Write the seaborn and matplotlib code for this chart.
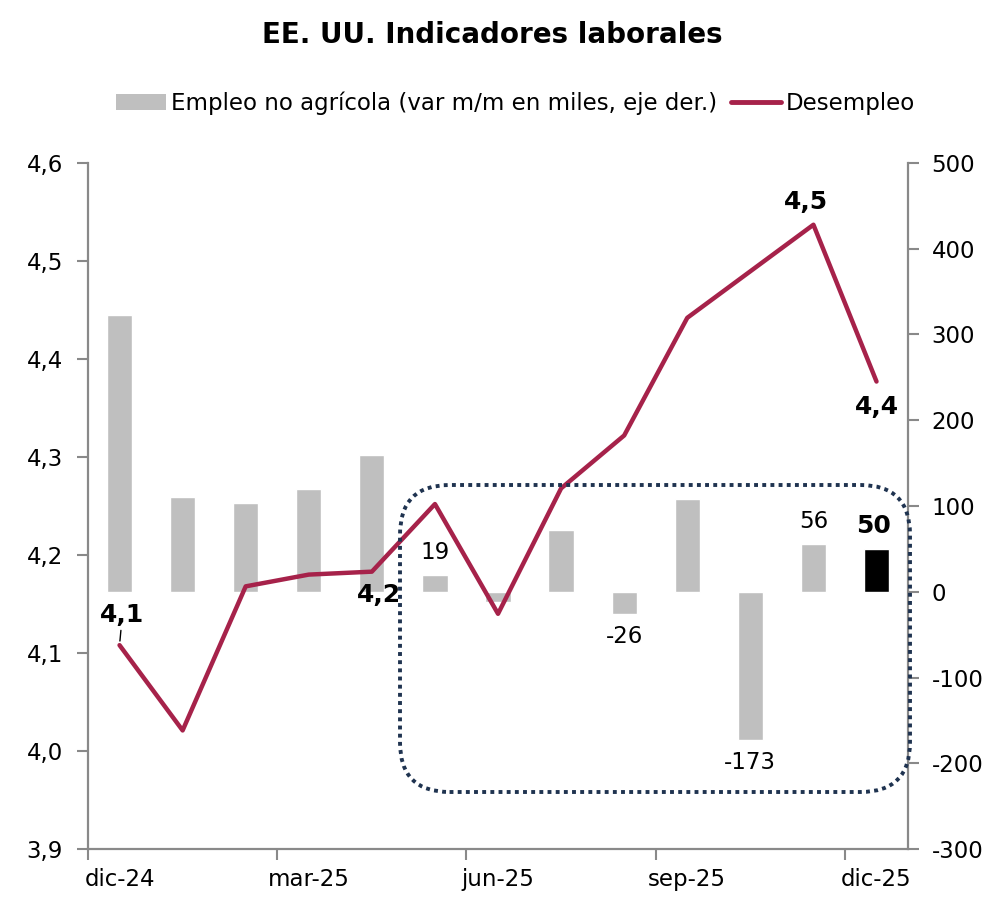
import numpy as np
import pandas as pd
import matplotlib
matplotlib.use('Agg')
import matplotlib.pyplot as plt
import seaborn as sns
from matplotlib.patches import FancyBboxPatch, Patch
from matplotlib.lines import Line2D
from matplotlib.ticker import FuncFormatter, FixedLocator

# ===============================
# Data
# ===============================
months = ['dic-24', 'ene-25', 'feb-25', 'mar-25', 'abr-25', 'may-25', 'jun-25',
          'jul-25', 'ago-25', 'sep-25', 'oct-25', 'nov-25', 'dic-25']
payrolls = [323, 111, 103, 120, 159, 19, -12, 72, -26, 108, -173, 56, 50]
unemployment = [4.108, 4.021, 4.168, 4.180, 4.183, 4.252, 4.140, 4.268,
                4.322, 4.442, np.nan, 4.537, 4.377]
tick_months = ['dic-24', 'mar-25', 'jun-25', 'sep-25', 'dic-25']

bar_labels = {5: '19', 8: '-26', 10: '-173', 11: '56'}
line_labels = {0: '4,1', 4: '4,2', 11: '4,5', 12: '4,4'}

df = pd.DataFrame({'mes': months, 'nfp': payrolls, 'u': unemployment})
df['pos'] = np.arange(len(df))

# ===============================
# Style
# ===============================
sns.set_style('white')
plt.rcParams['font.family'] = ['DejaVu Sans']
plt.rcParams['axes.unicode_minus'] = False
plt.rcParams['text.color'] = 'black'
plt.rcParams['xtick.color'] = 'black'
plt.rcParams['ytick.color'] = 'black'

GREY = '#BFBFBF'
RED = '#A6224A'
SPINE = '#898989'
NAVY = '#1F3350'
FS = 16.5

fig = plt.figure(figsize=(9.91, 9.09), dpi=100)
ax = fig.add_axes([0.0888, 0.066, 0.8275, 0.7547])
ax2 = ax.twinx()
ax.set_zorder(ax2.get_zorder() + 1)
ax.patch.set_visible(False)

# bars (right axis)
bar_colors = [GREY] * (len(months) - 1) + ['#000000']
sns.barplot(data=df, x='mes', y='nfp', hue='mes', palette=bar_colors,
            width=0.4, legend=False, ax=ax2, saturation=1)
ax2.set_ylim(-300, 500)
ax2.yaxis.set_major_locator(FixedLocator(range(-300, 501, 100)))

# line (left axis); oct-25 has no reading, so the line joins sep and nov
line_df = df.dropna(subset=['u'])
sns.lineplot(data=line_df, x='pos', y='u', color=RED, linewidth=3.2, ax=ax,
             sort=False)
ax.set_ylim(3.9, 4.6)
ax.yaxis.set_major_locator(FixedLocator(np.round(np.arange(3.9, 4.61, 0.1), 1)))
ax.yaxis.set_major_formatter(FuncFormatter(lambda v, p: f'{v:.1f}'.replace('.', ',')))

ax.set_xlim(-0.5, len(months) - 0.5)
ax2.set_xlim(-0.5, len(months) - 0.5)
for a in (ax, ax2):
    a.set_xlabel('')
    a.set_ylabel('')

# x ticks: marks at quarter boundaries, labels at month centres
tick_pos = [months.index(m) for m in tick_months]
ax.set_xticks([p - 0.5 for p in tick_pos])
ax.set_xticklabels([])
ax.set_xticks(tick_pos, minor=True)
ax.set_xticklabels(tick_months, minor=True)
ax.tick_params(axis='x', which='major', length=8, width=1.5, color=SPINE,
               direction='out', bottom=True)
ax.tick_params(axis='x', which='minor', length=0, pad=14, labelsize=FS)
ax2.tick_params(axis='x', which='both', bottom=False, labelbottom=False)

ax.tick_params(axis='y', length=8, width=1.5, color=SPINE, direction='out',
               left=True, pad=10, labelsize=FS)
ax2.tick_params(axis='y', length=8, width=1.5, color=SPINE, direction='out',
                right=True, pad=9, labelsize=FS)

for a in (ax, ax2):
    for s in a.spines.values():
        s.set_visible(False)
ax.spines['left'].set_visible(True)
ax.spines['bottom'].set_visible(True)
ax2.spines['right'].set_visible(True)
for s in (ax.spines['left'], ax.spines['bottom'], ax2.spines['right']):
    s.set_color(SPINE)
    s.set_linewidth(1.6)
ax.grid(False)
ax2.grid(False)

# bar value labels
for i, txt in bar_labels.items():
    v = payrolls[i]
    if v >= 0:
        ax2.annotate(txt, (i, v), xytext=(0, 8), textcoords='offset points',
                     ha='center', va='bottom', fontsize=FS)
    else:
        ax2.annotate(txt, (i, v), xytext=(0, -8), textcoords='offset points',
                     ha='center', va='top', fontsize=FS)
ax2.annotate('50', (12, payrolls[12]), xytext=(-2, 8), textcoords='offset points',
             ha='center', va='bottom', fontsize=18, fontweight='bold')

# line value labels
ax.annotate(line_labels[0], (0, unemployment[0]), xytext=(2, 13),
            textcoords='offset points', ha='center', va='bottom',
            fontsize=18, fontweight='bold',
            arrowprops=dict(arrowstyle='-', color='black', lw=1,
                            shrinkA=0, shrinkB=3))
ax.annotate(line_labels[4], (4, unemployment[4]), xytext=(5, -8),
            textcoords='offset points', ha='center', va='top',
            fontsize=18, fontweight='bold')
ax.annotate(line_labels[11], (11, unemployment[11]), xytext=(-5, 8),
            textcoords='offset points', ha='center', va='bottom',
            fontsize=18, fontweight='bold')
ax.annotate(line_labels[12], (12, unemployment[12]), xytext=(0, -10),
            textcoords='offset points', ha='center', va='top',
            fontsize=18, fontweight='bold')

# dotted highlight box
W, H = 991, 909
box = FancyBboxPatch((400 / W, 1 - 792 / H), 510 / W, 307 / H,
                     boxstyle='round,pad=0,rounding_size=0.05',
                     mutation_aspect=W / H, transform=fig.transFigure,
                     fill=False, edgecolor=NAVY, linewidth=2.8,
                     linestyle=(0, (1, 1.1)), clip_on=False, zorder=10)
fig.patches.append(box)

# title and legend
fig.text(0.497, 0.962, 'EE. UU. Indicadores laborales', ha='center', va='center',
         fontsize=20, fontweight='bold')
handles = [Patch(facecolor=GREY, edgecolor='none',
                 label='Empleo no agrícola (var m/m en miles, eje der.)'),
           Line2D([0], [0], color=RED, lw=3.5, label='Desempleo')]
fig.legend(handles=handles, loc='center', bbox_to_anchor=(0.52, 0.886), ncol=2,
           frameon=False, fontsize=FS, handlelength=2.2, handletextpad=0.2,
           columnspacing=0.6)

fig.savefig('out.png', dpi=100)
